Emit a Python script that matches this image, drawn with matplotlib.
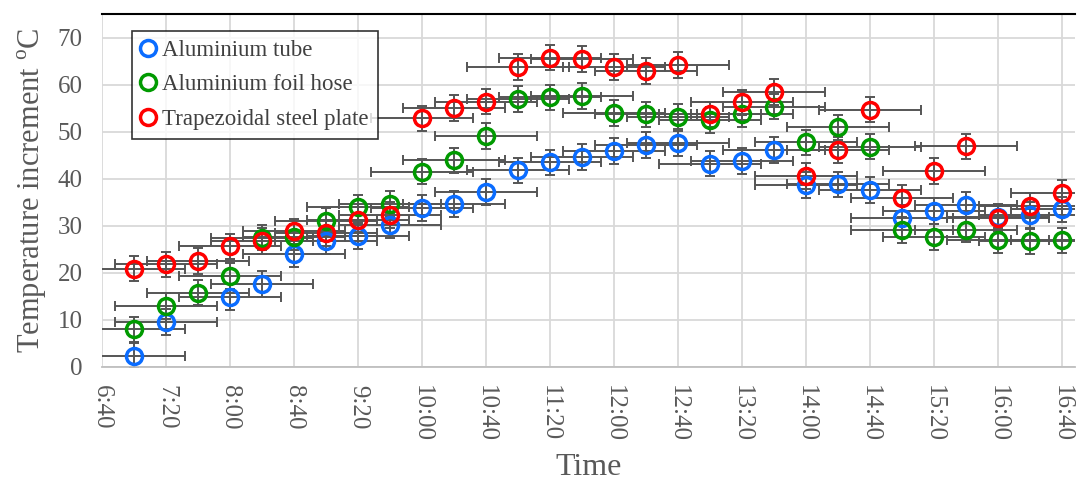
import matplotlib.pyplot as plt
import numpy as np

plt.rcParams["font.family"] = ["Liberation Serif", "DejaVu Serif"]
plt.rcParams["mathtext.fontset"] = "custom"
plt.rcParams["mathtext.rm"] = "Liberation Serif"

# Data
times = [
    "7:00", "7:20", "7:40", "8:00", "8:20", "8:40", "9:00", "9:20", "9:40", "10:00",
    "10:20", "10:40", "11:00", "11:20", "11:40", "12:00", "12:20", "12:40", "13:00", "13:20",
    "13:40", "14:00", "14:20", "14:40", "15:00", "15:20", "15:40", "16:00", "16:20", "16:40",
]
tick_labels = [
    "6:40", "7:20", "8:00", "8:40", "9:20", "10:00", "10:40", "11:20",
    "12:00", "12:40", "13:20", "14:00", "14:40", "15:20", "16:00", "16:40",
]
aluminium_tube = [
    2.4, 9.6, np.nan, 14.9, 17.6, 24.0, 26.8, 27.8, 30.1, 33.8,
    34.6, 37.2, 41.8, 43.5, 44.6, 45.9, 47.2, 47.5, 43.2, 43.8,
    46.1, 38.7, 38.8, 37.6, 31.7, 33.1, 34.4, 31.9, 32.3, 33.5,
]
aluminium_foil_hose = [
    8.0, 13.0, 15.8, 19.3, 27.5, 27.6, 31.0, 33.9, 34.6, 41.5,
    43.9, 49.1, 56.9, 57.3, 57.6, 54.0, 53.7, 53.2, 52.5, 53.7,
    55.3, 47.7, 50.9, 46.8, 29.1, 27.6, 29.2, 26.9, 26.7, 26.9,
]
steel_plate = [
    20.9, 21.8, 22.5, 25.6, 26.8, 28.8, 28.5, 31.3, 32.3, 52.8,
    55.0, 56.4, 63.7, 65.7, 65.4, 63.7, 62.9, 64.2, 53.7, 56.2,
    58.4, 40.6, 46.1, 54.7, 35.9, 41.6, 46.9, 31.6, 34.3, 37.0,
]
time_err = 32  # minutes
temp_err = 2.7  # degC


def to_min(t):
    h, m = t.split(":")
    return int(h) * 60 + int(m)


x = np.array([to_min(t) for t in times])
tick_pos = [to_min(t) for t in tick_labels]

grey = "#595959"
fig = plt.figure(figsize=(10.82, 4.82), dpi=100)
ax = fig.add_axes([0.0943, 0.2386, 0.8992, 0.7324])

series = [
    (aluminium_tube, "#0A6CFF", "Aluminium tube"),
    (aluminium_foil_hose, "#009A00", "Aluminium foil hose"),
    (steel_plate, "#FF0000", "Trapezoidal steel plate"),
]
handles = []
for values, color, label in series:
    ax.errorbar(
        x, values, xerr=time_err, yerr=temp_err, fmt="none",
        ecolor="#555555", elinewidth=1.4, capsize=3.5, capthick=1.4, zorder=2,
    )
    h, = ax.plot(
        x, values, "o", markersize=11.5, markerfacecolor="none",
        markeredgecolor=color, markeredgewidth=2.5, label=label, zorder=3,
    )
    handles.append(h)

ax.set_xlim(to_min("6:40"), to_min("16:48"))
ax.set_ylim(0, 75)
ax.set_xticks(tick_pos)
ax.set_xticklabels(tick_labels, rotation=-90)
ax.set_yticks(range(0, 71, 10))
ax.tick_params(axis="both", length=0, labelsize=18, colors=grey)
ax.tick_params(axis="y", pad=14)
ax.tick_params(axis="x", pad=13)
ax.grid(True, color="#d9d9d9", linewidth=1.3)
ax.set_axisbelow(True)

for side in ["left", "right"]:
    ax.spines[side].set_visible(False)
ax.spines["bottom"].set_color("#bfbfbf")
ax.spines["bottom"].set_linewidth(1.3)
ax.spines["top"].set_color("black")
ax.spines["top"].set_linewidth(1.5)

ax.set_xlabel("Time", fontsize=23, color=grey, labelpad=8)
ax.set_ylabel("Temperature increment $^{\\mathrm{o}}$C", fontsize=22, color=grey, labelpad=6)

leg = ax.legend(
    handles=handles, loc="upper left", bbox_to_anchor=(0.031, 0.952),
    fontsize=16.5, frameon=True, fancybox=False, edgecolor="black",
    handlelength=0.6, handletextpad=0.3, borderpad=0.4, labelspacing=0.58,
    borderaxespad=0,
)
leg.get_frame().set_linewidth(1.2)
for t in leg.get_texts():
    t.set_color("#404040")

plt.savefig("out.png", dpi=100)
